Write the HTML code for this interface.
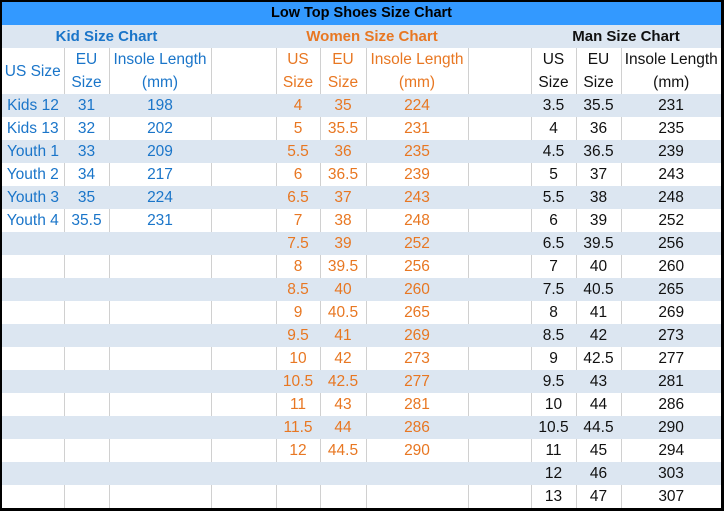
<!DOCTYPE html>
<html><head><meta charset="utf-8"><style>
html,body{margin:0;padding:0;background:#fff;}
#w{position:absolute;left:0;top:0;width:719px;height:506px;border-style:solid;border-color:#000;border-width:2px 3px 3px 2px;overflow:hidden;}
table{border-collapse:collapse;table-layout:fixed;width:719px;font-family:"Liberation Sans",sans-serif;font-size:15.5px;}
td{padding:0;text-align:center;height:23px;line-height:23px;white-space:nowrap;overflow:hidden;}
tr.s td{background:#dce6f1;}
tr.w td{border-right:1px solid #d0d0d0;}
tr.w td:last-child{border-right:none;}
tr.t td{background:#3399ff;font-weight:bold;font-size:14.5px;color:#000;}
tr.h td{height:46px;line-height:23px;white-space:normal;}
.k{color:#1a75c9}.o{color:#e87722}.m{color:#111}
.b{font-weight:bold;font-size:15px}
</style></head><body><div id="w">
<table>
<colgroup><col style="width:62px"><col style="width:45px"><col style="width:102px"><col style="width:65px"><col style="width:44px"><col style="width:46px"><col style="width:102px"><col style="width:63px"><col style="width:45px"><col style="width:45px"><col style="width:100px"></colgroup>
<tr class="t"><td colspan="11">Low Top Shoes Size Chart</td></tr>
<tr class="s"><td colspan="3" class="k b">Kid Size Chart</td><td></td><td colspan="3" class="o b">Women Size Chart</td><td></td><td colspan="3" class="m b">Man Size Chart</td></tr>
<tr class="w h"><td class="k">US Size</td><td class="k">EU<br>Size</td><td class="k">Insole Length<br>(mm)</td><td></td><td class="o">US<br>Size</td><td class="o">EU<br>Size</td><td class="o">Insole Length<br>(mm)</td><td></td><td class="m">US<br>Size</td><td class="m">EU<br>Size</td><td class="m">Insole Length<br>(mm)</td></tr>
<tr class="s"><td class="k">Kids 12</td><td class="k">31</td><td class="k">198</td><td></td><td class="o">4</td><td class="o">35</td><td class="o">224</td><td></td><td class="m">3.5</td><td class="m">35.5</td><td class="m">231</td></tr>
<tr class="w"><td class="k">Kids 13</td><td class="k">32</td><td class="k">202</td><td></td><td class="o">5</td><td class="o">35.5</td><td class="o">231</td><td></td><td class="m">4</td><td class="m">36</td><td class="m">235</td></tr>
<tr class="s"><td class="k">Youth 1</td><td class="k">33</td><td class="k">209</td><td></td><td class="o">5.5</td><td class="o">36</td><td class="o">235</td><td></td><td class="m">4.5</td><td class="m">36.5</td><td class="m">239</td></tr>
<tr class="w"><td class="k">Youth 2</td><td class="k">34</td><td class="k">217</td><td></td><td class="o">6</td><td class="o">36.5</td><td class="o">239</td><td></td><td class="m">5</td><td class="m">37</td><td class="m">243</td></tr>
<tr class="s"><td class="k">Youth 3</td><td class="k">35</td><td class="k">224</td><td></td><td class="o">6.5</td><td class="o">37</td><td class="o">243</td><td></td><td class="m">5.5</td><td class="m">38</td><td class="m">248</td></tr>
<tr class="w"><td class="k">Youth 4</td><td class="k">35.5</td><td class="k">231</td><td></td><td class="o">7</td><td class="o">38</td><td class="o">248</td><td></td><td class="m">6</td><td class="m">39</td><td class="m">252</td></tr>
<tr class="s"><td></td><td></td><td></td><td></td><td class="o">7.5</td><td class="o">39</td><td class="o">252</td><td></td><td class="m">6.5</td><td class="m">39.5</td><td class="m">256</td></tr>
<tr class="w"><td></td><td></td><td></td><td></td><td class="o">8</td><td class="o">39.5</td><td class="o">256</td><td></td><td class="m">7</td><td class="m">40</td><td class="m">260</td></tr>
<tr class="s"><td></td><td></td><td></td><td></td><td class="o">8.5</td><td class="o">40</td><td class="o">260</td><td></td><td class="m">7.5</td><td class="m">40.5</td><td class="m">265</td></tr>
<tr class="w"><td></td><td></td><td></td><td></td><td class="o">9</td><td class="o">40.5</td><td class="o">265</td><td></td><td class="m">8</td><td class="m">41</td><td class="m">269</td></tr>
<tr class="s"><td></td><td></td><td></td><td></td><td class="o">9.5</td><td class="o">41</td><td class="o">269</td><td></td><td class="m">8.5</td><td class="m">42</td><td class="m">273</td></tr>
<tr class="w"><td></td><td></td><td></td><td></td><td class="o">10</td><td class="o">42</td><td class="o">273</td><td></td><td class="m">9</td><td class="m">42.5</td><td class="m">277</td></tr>
<tr class="s"><td></td><td></td><td></td><td></td><td class="o">10.5</td><td class="o">42.5</td><td class="o">277</td><td></td><td class="m">9.5</td><td class="m">43</td><td class="m">281</td></tr>
<tr class="w"><td></td><td></td><td></td><td></td><td class="o">11</td><td class="o">43</td><td class="o">281</td><td></td><td class="m">10</td><td class="m">44</td><td class="m">286</td></tr>
<tr class="s"><td></td><td></td><td></td><td></td><td class="o">11.5</td><td class="o">44</td><td class="o">286</td><td></td><td class="m">10.5</td><td class="m">44.5</td><td class="m">290</td></tr>
<tr class="w"><td></td><td></td><td></td><td></td><td class="o">12</td><td class="o">44.5</td><td class="o">290</td><td></td><td class="m">11</td><td class="m">45</td><td class="m">294</td></tr>
<tr class="s"><td></td><td></td><td></td><td></td><td></td><td></td><td></td><td></td><td class="m">12</td><td class="m">46</td><td class="m">303</td></tr>
<tr class="w"><td></td><td></td><td></td><td></td><td></td><td></td><td></td><td></td><td class="m">13</td><td class="m">47</td><td class="m">307</td></tr>
</table></div></body></html>
